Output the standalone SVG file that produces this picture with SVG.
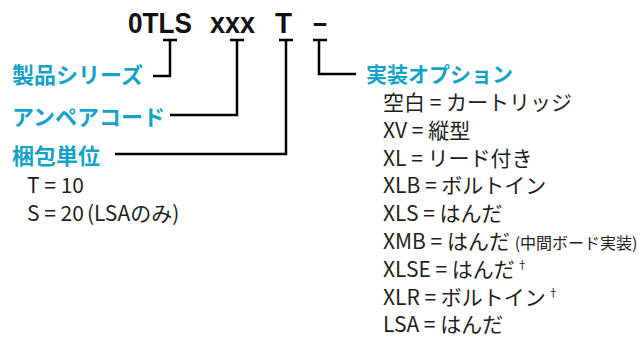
<svg xmlns="http://www.w3.org/2000/svg" width="641" height="339" viewBox="0 0 641 339">
<style>
.hd{font-family:"Liberation Sans","Noto Sans CJK JP",sans-serif;font-weight:bold;font-size:29px;fill:#111}
.lb{font-family:"Noto Sans CJK JP",sans-serif;font-weight:bold;font-size:22px;fill:#14a3c7}
.tx{font-family:"Noto Sans CJK JP",sans-serif;font-size:21px;fill:#231f20}
.sm{font-size:16px}
.sup{font-size:11px}
.cn{fill:none;stroke:#000;stroke-width:2.5}
</style>
<rect width="641" height="339" fill="#fff"/>
<g id="header">
<text class="hd" x="128" y="33" textLength="64" lengthAdjust="spacingAndGlyphs">0TLS</text>
<text class="hd" x="210" y="33" textLength="45" lengthAdjust="spacingAndGlyphs">xxx</text>
<text class="hd" x="275" y="33" textLength="17" lengthAdjust="spacingAndGlyphs">T</text>
<text class="hd" x="313" y="33" textLength="14" lengthAdjust="spacingAndGlyphs">–</text>
</g>
<g id="connectors">
<path class="cn" d="M163,40 H177 M170,40 V76 H153"/>
<path class="cn" d="M230,40 H244 M237,40 V115 H170"/>
<path class="cn" d="M279,40 H293 M286,40 V154 H115"/>
<path class="cn" d="M313,40 H327 M319,40 V74 H356"/>
</g>
<g id="series"><text class="lb" x="12" y="83">製品シリーズ</text></g>
<g id="ampere"><text class="lb" x="12" y="125">アンペアコード</text></g>
<g id="packing">
<text class="lb" x="12" y="164">梱包単位</text>
<text class="tx" x="27" y="193">T = 10</text>
<text class="tx" x="27" y="221">S = 20<tspan dx="3">(LSAのみ)</tspan></text>
</g>
<g id="option">
<text class="lb" x="366" y="82" style="font-size:21px">実装オプション</text>
<text class="tx" x="383" y="110">空白 = カートリッジ</text>
<text class="tx" x="383" y="137.8">XV = 縦型</text>
<text class="tx" x="383" y="165.6">XL = リード付き</text>
<text class="tx" x="383" y="193.4">XLB = ボルトイン</text>
<text class="tx" x="383" y="221.2">XLS = はんだ</text>
<text class="tx" x="383" y="249">XMB = はんだ <tspan class="sm">(中間ボード実装)</tspan></text>
<text class="tx" x="383" y="276.8">XLSE = はんだ<tspan class="sup" dx="2" dy="-8">†</tspan></text>
<text class="tx" x="383" y="304.6">XLR = ボルトイン<tspan class="sup" dx="2" dy="-8">†</tspan></text>
<text class="tx" x="383" y="332.4">LSA = はんだ</text>
</g>
</svg>
